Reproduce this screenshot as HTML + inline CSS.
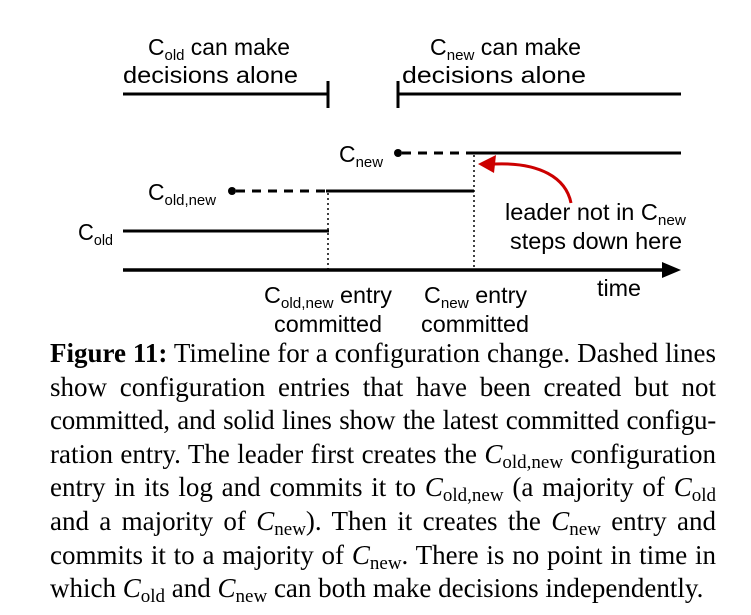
<!DOCTYPE html>
<html><head><meta charset="utf-8">
<style>
html,body{margin:0;padding:0;background:#fff;}
body{width:751px;height:615px;position:relative;overflow:hidden;}
svg{position:absolute;left:0;top:0;}
.cap{position:absolute;left:50px;top:337px;width:666px;font-family:"Liberation Serif",serif;font-size:27px;color:#000;}
.cap div{height:33.6px;line-height:33.6px;text-align:justify;text-align-last:justify;white-space:nowrap;}
.cap div.last{text-align-last:left;}
.cap div.tight{letter-spacing:-0.25px;word-spacing:-1px;}
.cap i{font-style:italic;}
.cap sub{font-size:19px;vertical-align:-5px;line-height:0;}
</style></head><body>
<svg width="751" height="615" viewBox="0 0 751 615" font-family="Liberation Sans, sans-serif" font-size="23" fill="#000">
  <line x1="123" y1="94" x2="328" y2="94" stroke="#000" stroke-width="3"/>
  <line x1="328" y1="81" x2="328" y2="108" stroke="#000" stroke-width="3"/>
  <line x1="398" y1="94" x2="681" y2="94" stroke="#000" stroke-width="3"/>
  <line x1="398" y1="81" x2="398" y2="108" stroke="#000" stroke-width="3"/>
  <text x="148" y="55" textLength="142" lengthAdjust="spacingAndGlyphs">C<tspan font-size="15" dy="5">old</tspan><tspan dy="-5"> can make</tspan></text>
  <text x="123" y="83" textLength="175" lengthAdjust="spacingAndGlyphs">decisions alone</text>
  <text x="430" y="55" textLength="151" lengthAdjust="spacingAndGlyphs">C<tspan font-size="15" dy="5">new</tspan><tspan dy="-5"> can make</tspan></text>
  <text x="402" y="83" textLength="184" lengthAdjust="spacingAndGlyphs">decisions alone</text>

  <text x="339" y="162" textLength="44" lengthAdjust="spacingAndGlyphs">C<tspan font-size="15" dy="5">new</tspan></text>
  <circle cx="398" cy="153" r="4"/>
  <line x1="402" y1="153" x2="474" y2="153" stroke="#000" stroke-width="3" stroke-dasharray="9,7"/>
  <line x1="474" y1="153" x2="681" y2="153" stroke="#000" stroke-width="3"/>
  <text x="148" y="200" textLength="68" lengthAdjust="spacingAndGlyphs">C<tspan font-size="15" dy="5">old,new</tspan></text>
  <circle cx="232" cy="191" r="4"/>
  <line x1="236" y1="191" x2="326" y2="191" stroke="#000" stroke-width="3" stroke-dasharray="9,7"/>
  <line x1="326" y1="191" x2="474" y2="191" stroke="#000" stroke-width="3"/>
  <text x="78" y="240" textLength="35" lengthAdjust="spacingAndGlyphs">C<tspan font-size="15" dy="5">old</tspan></text>
  <line x1="123" y1="231" x2="329" y2="231" stroke="#000" stroke-width="3"/>
  <line x1="328" y1="193" x2="328" y2="270" stroke="#000" stroke-width="1.5" stroke-dasharray="2,3"/>
  <line x1="474" y1="155" x2="474" y2="270" stroke="#000" stroke-width="1.5" stroke-dasharray="2,3"/>
  <line x1="123" y1="270" x2="666" y2="270" stroke="#000" stroke-width="3.5"/>
  <polygon points="681,270 662,262 662,278"/>
  <text x="597" y="296" textLength="44" lengthAdjust="spacingAndGlyphs">time</text>
  <text x="264" y="303" textLength="128" lengthAdjust="spacingAndGlyphs">C<tspan font-size="15" dy="5">old,new</tspan><tspan dy="-5"> entry</tspan></text>
  <text x="274" y="332" textLength="108" lengthAdjust="spacingAndGlyphs">committed</text>
  <text x="424" y="303" textLength="103" lengthAdjust="spacingAndGlyphs">C<tspan font-size="15" dy="5">new</tspan><tspan dy="-5"> entry</tspan></text>
  <text x="421" y="332" textLength="108" lengthAdjust="spacingAndGlyphs">committed</text>
  <text x="505" y="220" textLength="181" lengthAdjust="spacingAndGlyphs">leader not in C<tspan font-size="15" dy="5">new</tspan></text>
  <text x="510" y="249" textLength="172" lengthAdjust="spacingAndGlyphs">steps down here</text>
  <path d="M571,203 C566,178 540,162 494,164" fill="none" stroke="#c00" stroke-width="3"/>
  <polygon points="478,164 496,155 494,173" fill="#c00"/>
</svg>
<div class="cap">
<div><b>Figure 11:</b> Timeline for a configuration change. Dashed lines</div>
<div>show configuration entries that have been created but not</div>
<div class="tight">committed, and solid lines show the latest committed configu-</div>
<div>ration entry. The leader first creates the <i>C</i><sub>old,new</sub> configuration</div>
<div>entry in its log and commits it to <i>C</i><sub>old,new</sub> (a majority of <i>C</i><sub>old</sub></div>
<div>and a majority of <i>C</i><sub>new</sub>). Then it creates the <i>C</i><sub>new</sub> entry and</div>
<div>commits it to a majority of <i>C</i><sub>new</sub>. There is no point in time in</div>
<div class="last">which <i>C</i><sub>old</sub> and <i>C</i><sub>new</sub> can both make decisions independently.</div>
</div>
</body></html>
